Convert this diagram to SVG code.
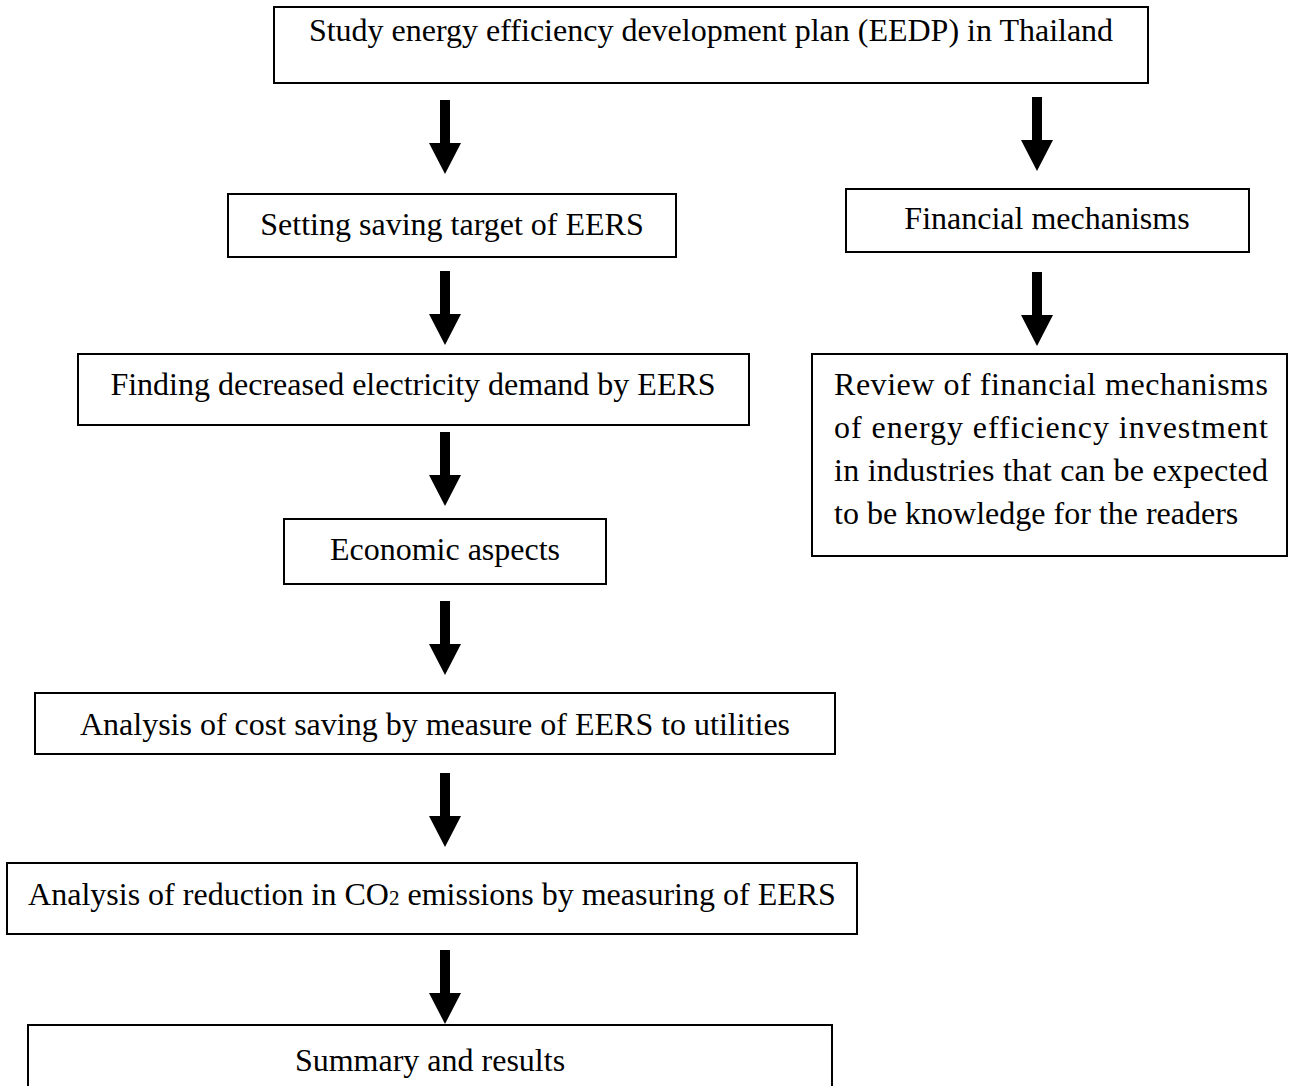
<svg xmlns="http://www.w3.org/2000/svg" width="1294" height="1086" viewBox="0 0 1294 1086">
<defs>
<style>
.box{fill:#fff;stroke:#000;stroke-width:2}
.t{font-family:"Liberation Serif","Times New Roman",serif;font-size:32px;fill:#000}
.c{text-anchor:middle}
.arr{fill:#000;stroke:none}
</style>
<path id="arrow" d="M-5,0 H5 V43 H16 L0,74 L-16,43 H-5 Z"/>
</defs>
<rect width="1294" height="1086" fill="#fff"/>
<g id="connectors" class="arr">
<use href="#arrow" x="445" y="100"/>
<use href="#arrow" x="445" y="271"/>
<use href="#arrow" x="445" y="432"/>
<use href="#arrow" x="445" y="601"/>
<use href="#arrow" x="445" y="773"/>
<use href="#arrow" x="445" y="950"/>
<use href="#arrow" x="1037" y="97"/>
<use href="#arrow" x="1037" y="272"/>
</g>
<g id="n1"><rect class="box" x="274" y="7" width="874" height="76"/><text class="t c" x="711" y="41">Study energy efficiency development plan (EEDP) in Thailand</text></g>
<g id="n2"><rect class="box" x="228" y="194" width="448" height="63"/><text class="t c" x="452" y="235">Setting saving target of EERS</text></g>
<g id="n3"><rect class="box" x="846" y="189" width="403" height="63"/><text class="t c" x="1047" y="229">Financial mechanisms</text></g>
<g id="n4"><rect class="box" x="78" y="354" width="671" height="71"/><text class="t c" x="413" y="395">Finding decreased electricity demand by EERS</text></g>
<g id="n5"><rect class="box" x="812" y="354" width="475" height="202"/>
<text class="t" x="834" y="395" textLength="434" lengthAdjust="spacing">Review of financial mechanisms</text>
<text class="t" x="834" y="438" textLength="434" lengthAdjust="spacing">of energy efficiency investment</text>
<text class="t" x="834" y="481" textLength="434" lengthAdjust="spacing">in industries that can be expected</text>
<text class="t" x="834" y="524">to be knowledge for the readers</text></g>
<g id="n6"><rect class="box" x="284" y="519" width="322" height="65"/><text class="t c" x="445" y="560">Economic aspects</text></g>
<g id="n7"><rect class="box" x="35" y="693" width="800" height="61"/><text class="t c" x="435" y="735">Analysis of cost saving by measure of EERS to utilities</text></g>
<g id="n8"><rect class="box" x="7" y="863" width="850" height="71"/><text class="t c" x="432" y="905">Analysis of reduction in CO<tspan font-size="21">2</tspan> emissions by measuring of EERS</text></g>
<g id="n9"><rect class="box" x="28" y="1025" width="804" height="80"/><text class="t c" x="430" y="1071">Summary and results</text></g>
</svg>
